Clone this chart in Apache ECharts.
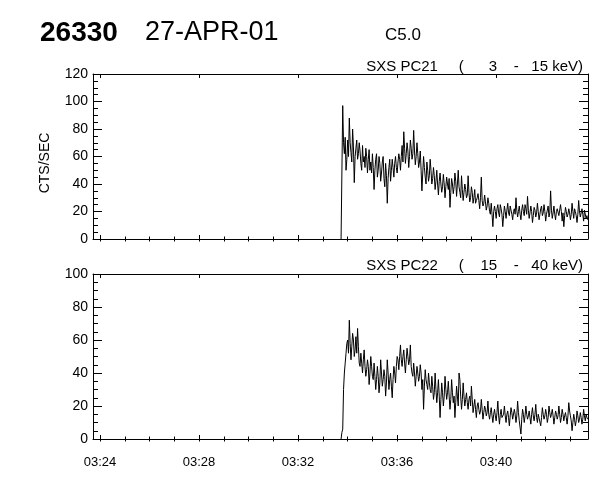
<!DOCTYPE html>
<html>
<head>
<meta charset="utf-8">
<script src="https://cdn.jsdelivr.net/npm/echarts@6/dist/echarts.min.js"></script>
<style>
  html, body { margin: 0; padding: 0; background: #fff; }
  #chart { width: 600px; height: 480px; }
</style>
</head>
<body>
<div id="chart"></div>
<script>
// time axis in minutes of the day (03:24 = 204)
var xMin = 203.717, xMax = 223.717;
var majorTimes = [204, 208, 212, 216, 220];
var minorTimes = [204, 205, 206, 207, 208, 209, 210, 211, 212, 213, 214, 215, 216, 217, 218, 219, 220, 221, 222, 223];

// samples start at flare onset, one every 2 s (even and odd samples kept apart)
var startTime = 213.74;
var stepMin = 4 / 60;

// SXS PC21 (3 - 15 keV), cts/sec, even samples
var pc21 = [
  0, 97, 62, 50, 72, 88, 63, 80, 41, 66,
  58, 70, 55, 68, 60, 66, 48, 65, 56, 62,
  36, 58, 45, 60, 42, 56, 44, 55, 26, 52,
  42, 58, 45, 60, 48, 62, 50, 68, 78, 55,
  70, 52, 72, 58, 79, 54, 70, 52, 64, 35,
  60, 45, 56, 42, 58, 40, 52, 36, 50, 32,
  48, 34, 47, 30, 45, 36, 23, 44, 33, 48,
  31, 50, 34, 46, 28, 40, 30, 46, 27, 38,
  26, 36, 28, 33, 22, 45, 24, 32, 21, 30,
  20, 26, 9, 24, 15, 25, 16, 22, 9, 24,
  15, 26, 17, 23, 14, 22, 30, 16, 24, 14,
  25, 17, 22, 31, 15, 24, 12, 23, 16, 26,
  14, 22, 17, 25, 13, 21, 16, 35, 15, 24,
  14, 22, 17, 25, 13, 9, 23, 16, 22, 14,
  26, 15, 20, 12, 28, 16, 22, 13, 20, 17
];
// odd samples
var pc21Odd = [
  0, 70, 74, 58, 60, 70, 56, 67, 60, 72,
  62, 64, 50, 56, 52, 60, 58, 50, 48, 52,
  50, 62, 50, 55, 48, 60, 38, 46, 44, 58,
  50, 52, 55, 52, 56, 58, 60, 56, 66, 62,
  64, 60, 66, 62, 64, 60, 62, 56, 50, 48,
  52, 40, 50, 46, 50, 44, 46, 42, 40, 42,
  40, 38, 40, 38, 40, 44, 34, 40, 38, 42,
  40, 38, 30, 36, 34, 36, 32, 34, 30, 34,
  30, 26, 30, 28, 30, 28, 26, 27, 24, 26,
  18, 18, 20, 20, 22, 19, 25, 18, 17, 20,
  21, 19, 24, 18, 20, 18, 21, 20, 18, 21,
  20, 25, 18, 21, 19, 20, 17, 21, 19, 20,
  18, 24, 19, 20, 18, 24, 19, 21, 19, 18,
  20, 21, 18, 20, 19, 17, 20, 18, 19, 18,
  20, 22, 17, 18, 20, 15, 18, 21, 15, 14
];

// SXS PC22 (15 - 40 keV), cts/sec, even samples
var pc22 = [
  0, 6, 40, 52, 60, 72, 48, 64, 50, 62,
  67, 46, 52, 40, 54, 38, 48, 33, 50, 38,
  46, 30, 44, 28, 48, 32, 42, 26, 48, 30,
  40, 25, 44, 34, 50, 42, 57, 44, 54, 40,
  55, 45, 57, 40, 46, 32, 44, 35, 45, 30,
  18, 42, 33, 40, 30, 38, 24, 40, 22, 36,
  13, 34, 20, 38, 24, 35, 18, 36, 22, 13,
  32, 20, 36, 18, 34, 20, 28, 18, 26, 32,
  16, 24, 13, 22, 15, 24, 12, 20, 14, 23,
  12, 19, 10, 18, 11, 23, 9, 18, 12, 20,
  10, 17, 8, 19, 12, 18, 10, 23, 11, 3,
  18, 10, 20, 12, 17, 9, 19, 11, 21, 10,
  16, 8, 19, 12, 18, 10, 20, 13, 18, 9,
  17, 12, 20, 10, 18, 11, 16, 9, 22, 14,
  5, 15, 8, 17, 10, 16, 9, 18, 11, 13
];
// odd samples
var pc22Odd = [
  4, 30, 46, 58, 52, 58, 56, 60, 54, 52,
  56, 44, 46, 48, 44, 42, 44, 40, 44, 36,
  38, 36, 38, 34, 40, 36, 38, 34, 40, 36,
  32, 36, 40, 44, 48, 50, 48, 50, 46, 48,
  50, 48, 44, 38, 40, 38, 40, 38, 40, 36,
  32, 36, 30, 34, 28, 32, 28, 30, 28, 26,
  24, 28, 26, 30, 28, 26, 24, 28, 26, 22,
  26, 40, 26, 24, 26, 24, 22, 24, 20, 24,
  20, 18, 20, 18, 17, 18, 16, 18, 16, 15,
  16, 14, 15, 14, 16, 14, 15, 13, 15, 14,
  15, 13, 14, 16, 13, 15, 14, 16, 12, 12,
  15, 14, 15, 14, 13, 15, 14, 15, 13, 15,
  14, 13, 15, 14, 15, 13, 16, 15, 14, 13,
  15, 14, 15, 13, 15, 14, 13, 14, 17, 11,
  10, 12, 11, 14, 12, 13, 12, 14, 15, 12
];

var fontFam = "'Liberation Sans', Arial, sans-serif";

function toPairs(even, odd) {
  var out = [];
  for (var i = 0; i < even.length; i++) {
    out.push([startTime + i * stepMin, even[i]]);
    out.push([startTime + (i + 0.5) * stepMin, odd[i]]);
  }
  return out;
}

function timeLabel(v) {
  var h = Math.floor(v / 60), m = Math.round(v - h * 60);
  return (h < 10 ? '0' : '') + h + ':' + (m < 10 ? '0' : '') + m;
}

var black = { color: '#000', width: 1 };

function xAxesFor(g) {
  var base = {
    gridIndex: g, type: 'value', min: xMin, max: xMax,
    splitLine: { show: false },
    axisLine: { onZero: false, lineStyle: black }
  };
  return [
    Object.assign({}, base, {
      position: 'bottom',
      axisTick: { inside: true, length: 4, customValues: majorTimes, lineStyle: black },
      axisLabel: {
        show: g === 1, customValues: majorTimes, formatter: timeLabel,
        color: '#000', fontFamily: fontFam, fontSize: 13, margin: 17
      }
    }),
    Object.assign({}, base, {
      position: 'bottom', axisLine: { show: false },
      axisTick: { inside: true, length: 2.5, customValues: minorTimes, lineStyle: black },
      axisLabel: { show: false }
    }),
    Object.assign({}, base, {
      position: 'top',
      axisTick: { inside: true, length: 4, customValues: majorTimes, lineStyle: black },
      axisLabel: { show: false }
    }),
    Object.assign({}, base, {
      position: 'top', axisLine: { show: false },
      axisTick: { inside: true, length: 2.5, customValues: minorTimes, lineStyle: black },
      axisLabel: { show: false }
    })
  ];
}

function yAxesFor(g, top) {
  var base = {
    gridIndex: g, type: 'value', min: 0, max: top, interval: 20,
    splitLine: { show: false },
    axisLine: { show: true, onZero: false, lineStyle: black },
    axisTick: { show: true, inside: true, length: 9, lineStyle: black },
    minorTick: { show: true, splitNumber: 4, length: 5, lineStyle: black }
  };
  return [
    Object.assign({}, base, {
      position: 'left',
      axisLabel: { color: '#000', fontFamily: fontFam, fontSize: 14, margin: 5 }
    }),
    Object.assign({}, base, { position: 'right', axisLabel: { show: false } })
  ];
}

var chart = echarts.init(document.getElementById('chart'), null, { renderer: 'canvas' });

chart.setOption({
  animation: false,
  backgroundColor: '#fff',
  grid: [
    { left: 93, top: 74, width: 495, height: 165 },
    { left: 93, top: 274, width: 495, height: 165 }
  ],
  xAxis: xAxesFor(0).concat(xAxesFor(1)),
  yAxis: yAxesFor(0, 120).concat(yAxesFor(1, 100)),
  series: [
    {
      name: 'SXS PC21', type: 'line', xAxisIndex: 0, yAxisIndex: 0,
      data: toPairs(pc21, pc21Odd), showSymbol: false, symbol: 'none',
      lineStyle: { color: '#000', width: 1 }
    },
    {
      name: 'SXS PC22', type: 'line', xAxisIndex: 4, yAxisIndex: 2,
      data: toPairs(pc22, pc22Odd), showSymbol: false, symbol: 'none',
      lineStyle: { color: '#000', width: 1 }
    }
  ],
  graphic: [
    { type: 'text', x: 40, y: 33, style: { text: '26330', fill: '#000', font: 'bold 28px ' + fontFam, verticalAlign: 'middle' } },
    { type: 'text', x: 145, y: 33, style: { text: '27-APR-01', fill: '#000', font: '27px ' + fontFam, verticalAlign: 'middle' } },
    { type: 'text', x: 385, y: 35, style: { text: 'C5.0', fill: '#000', font: '17px ' + fontFam, verticalAlign: 'middle' } },
    { type: 'text', x: 583, y: 67, style: { text: 'SXS PC21     (      3    -   15 keV)', fill: '#000', font: '15px ' + fontFam, align: 'right', verticalAlign: 'middle' } },
    { type: 'text', x: 583, y: 266, style: { text: 'SXS PC22     (    15    -   40 keV)', fill: '#000', font: '15px ' + fontFam, align: 'right', verticalAlign: 'middle' } },
    { type: 'text', x: 45, y: 163, rotation: Math.PI / 2, style: { text: 'CTS/SEC', fill: '#000', font: '14px ' + fontFam, align: 'center', verticalAlign: 'middle' } }
  ]
});
</script>
</body>
</html>
